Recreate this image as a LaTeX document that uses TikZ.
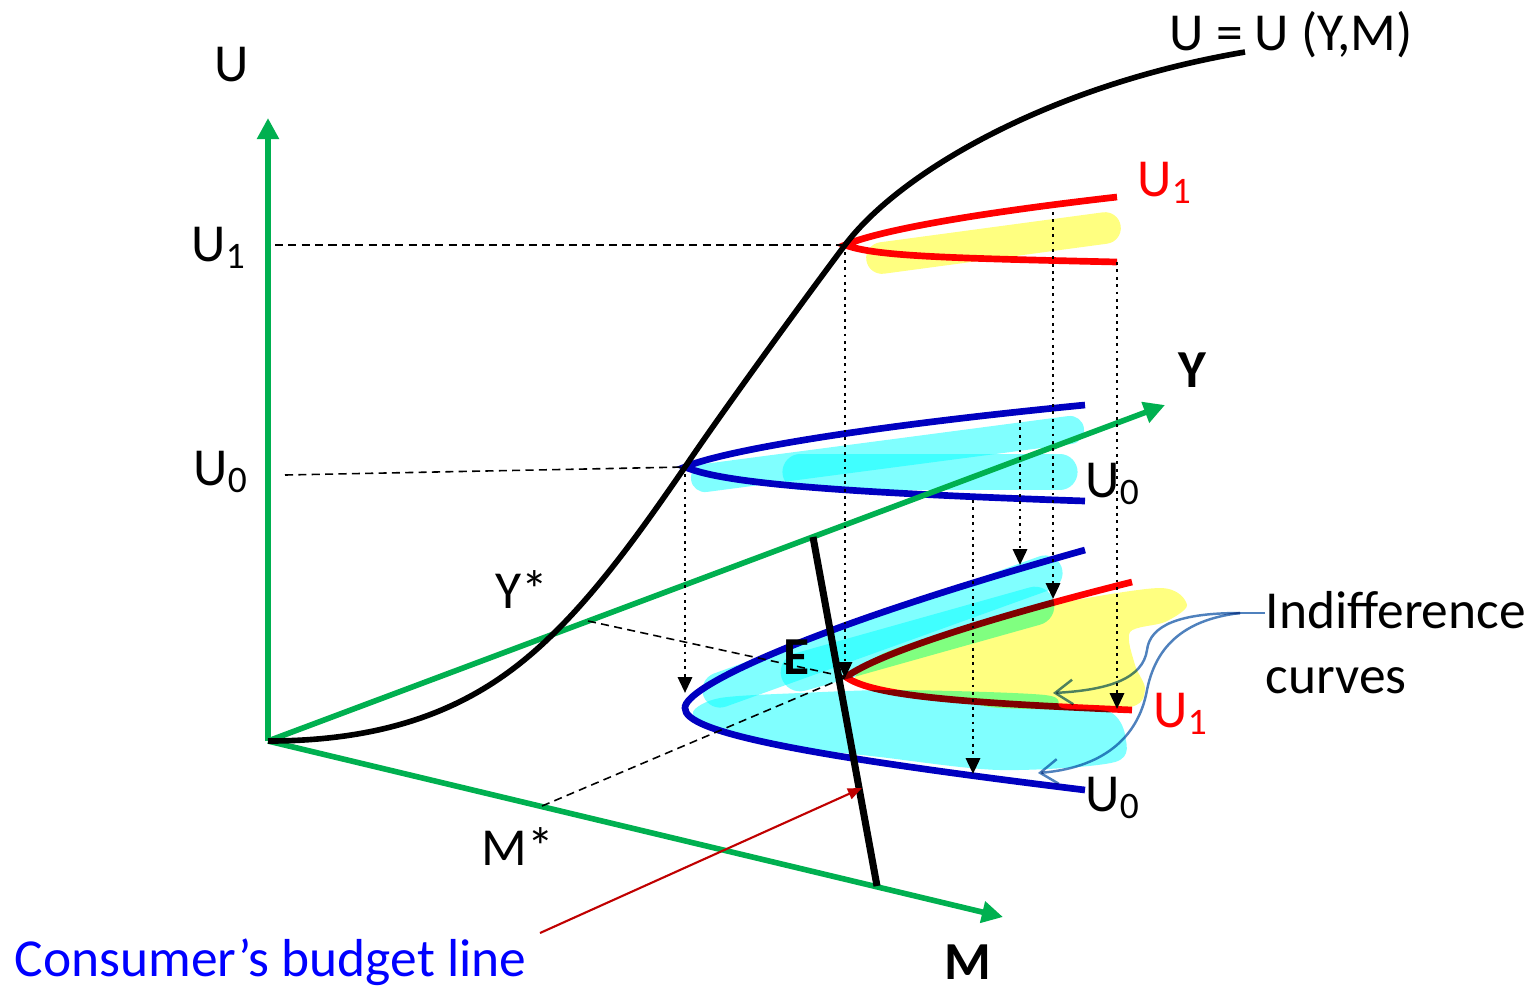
\documentclass[tikz,border=0pt]{standalone}
\usepackage{fontspec}
\setmainfont{Carlito}
\usetikzlibrary{arrows.meta}

\definecolor{axisgreen}{RGB}{0,176,80}
\definecolor{icblue}{RGB}{0,0,192}
\definecolor{icred}{RGB}{255,0,0}
\definecolor{hlcyan}{RGB}{128,255,255}
\definecolor{hlyellow}{RGB}{255,255,128}
\definecolor{calloutblue}{RGB}{79,129,189}
\definecolor{arrowred}{RGB}{192,0,0}
\definecolor{labelblue}{RGB}{0,0,255}

\begin{document}
\begin{tikzpicture}[x=0.01cm, y=-0.01cm,
  font=\fontsize{15.2}{18.5}\selectfont,
  axis/.style={axisgreen, line width=1.6pt, -{Triangle[length=6pt,width=6pt]}},
  level/.style={line width=0.45pt, dash pattern=on 2.3pt off 1.5pt},
  drop/.style={line width=0.8pt, dash pattern=on 0.8pt off 1.3pt,
    -{Triangle[length=4.5pt,width=4pt]}},
  indiff/.style={line width=1.9pt},
  hilite/.style={line width=#1, line cap=round},
  callout/.style={calloutblue, line width=0.7pt, -{Straight Barb[length=5pt,width=7pt]}},
  bold/.style={font=\fontsize{15.2}{18.5}\selectfont\bfseries}]

\useasboundingbox (0,0) rectangle (1533,990);

% Points
\coordinate (O) at (268,741);
\coordinate (Utop) at (268,118);
\coordinate (Yend) at (1165,405);
\coordinate (Mend) at (1003,917);
\coordinate (A1) at (845,245);
\coordinate (A0) at (685,467);
\coordinate (E) at (846,677);
\coordinate (B0) at (685,708);
\coordinate (Ys) at (588,621);
\coordinate (Ms) at (542,806);
\coordinate (Bt) at (813,537);
\coordinate (Bb) at (877,886);

% Indifference curves, upper
\draw[indiff, icred] (1117,197) .. controls (960,215) and (875,232) .. (A1)
  .. controls (875,256) and (940,258) .. (1117,262);
\draw[indiff, icblue] (1085,405) .. controls (850,428) and (720,452) .. (A0)
  .. controls (720,482) and (820,492) .. (1085,501);

% Indifference curves, lower
\draw[indiff, icblue] (1085,550) .. controls (800,630) and (684,688) .. (B0)
  .. controls (684,732) and (800,755) .. (1085,790);
\draw[indiff, icred] (1132,582) .. controls (1000,615) and (880,652) .. (E)
  .. controls (870,694) and (940,702) .. (1132,710);

% Axes
\draw[axis] (O) -- (Utop);
\draw[axis] (O) -- (Yend);
\draw[axis] (O) -- (Mend);

% U = U(Y,M)
\draw[line width=1.6pt] (O) .. controls (410,741) and (490,695) .. (550,637)
  .. controls (600,589) and (645,525) .. (A0)
  .. controls (720,415) and (800,305) .. (A1)
  .. controls (900,172) and (1050,85) .. (1245,52);

% Budget line
\draw[line width=2pt] (Bt) -- (Bb);

% Levels and projections
\draw[level] (275,245) -- (A1);
\draw[level] (285,475) -- (A0);
\draw[level] (Ys) -- (E);
\draw[level] (Ms) -- (E);
\foreach \x/\ya/\yb in {685/467/693, 845/245/678, 1053/212/599,
                        1117/262/709, 973/500/774, 1020/420/565}
  \draw[drop] (\x,\ya) -- (\x,\yb);

% Labels
\node (lU) at (232,65) {U};
\node (lU1) at (219,248) {U\textsubscript{1}};
\node (lU0) at (221,472) {U\textsubscript{0}};
\node (lfun) at (1291,35) {U = U (Y,M)};
\node[icred] (lU1a) at (1165,183) {U\textsubscript{1}};
\node[bold] (lY) at (1192,370) {Y};
\node (lU0a) at (1113,484) {U\textsubscript{0}};
\node (lYs) at (522,590) {Y*};
\node[bold] (lE) at (797,657) {E};
\node[icred] (lU1b) at (1181,714) {U\textsubscript{1}};
\node (lU0b) at (1113,798) {U\textsubscript{0}};
\node (lMs) at (518,847) {M*};
\node[bold] (lM) at (968,962) {M};
\node[anchor=west, align=left, inner sep=0pt] (lind) at (1265,643) {Indifference\\curves};
\node[labelblue, anchor=west, inner sep=0pt] (lbudget) at (14,962) {Consumer’s budget line};

% Pointers
\draw[arrowred, line width=0.6pt, -{Triangle[length=4pt,width=3.2pt]}] (540,933) -- (862,788);

% Highlighter marks
\begin{scope}[blend mode=multiply]
\draw[hlyellow, hilite=9pt] (882,258) -- (1105,228);
\draw[hlcyan, hilite=8pt] (705,478) -- (1070,430);
\draw[hlcyan, hilite=10pt] (800,472) -- (1060,472);
\fill[hlyellow] plot[smooth cycle, tension=0.5] coordinates {(855,681) (880,655) (960,628)
  (1050,605) (1160,588) (1187,605) (1165,622) (1130,632) (1135,665) (1145,690)
  (1125,708) (1000,708) (955,698) (900,690)};
\fill[hlcyan] plot[smooth cycle, tension=0.5] coordinates {(693,712) (720,698) (800,693)
  (900,690) (1045,695) (1062,708) (1110,712) (1125,735) (1115,762) (1000,770)
  (880,757) (780,745) (710,728)};
\draw[hlcyan, hilite=10pt] (720,690) -- (1045,573);
\draw[hlcyan, hilite=11pt] (800,672) -- (1035,606);
\coordinate (cs) at (1240,613);
\draw[calloutblue, line width=0.7pt] (lind.west |- cs) -- (cs);
\draw[callout] (cs) .. controls (1180,613) and (1150,625) .. (1147,650)
  .. controls (1143,678) and (1110,690) .. (1053,693);
\draw[callout] (cs) .. controls (1180,620) and (1155,650) .. (1147,690)
  .. controls (1138,740) and (1100,768) .. (1038,773);
\end{scope}

\end{tikzpicture}
\end{document}
